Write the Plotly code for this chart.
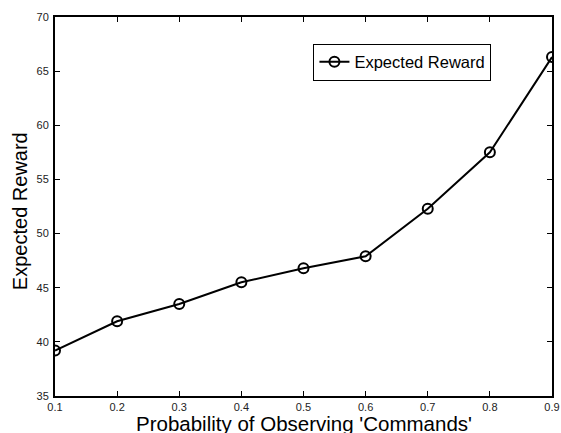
import plotly.graph_objects as go

prob = [0.1, 0.2, 0.3, 0.4, 0.5, 0.6, 0.7, 0.8, 0.9]
reward = [39.2, 41.9, 43.5, 45.5, 46.8, 47.9, 52.3, 57.5, 66.3]
x_ticks = [0.1, 0.2, 0.3, 0.4, 0.5, 0.6, 0.7, 0.8, 0.9]
y_ticks = [35, 40, 45, 50, 55, 60, 65, 70]
x_title = "Probability of Observing 'Commands'"
y_title = "Expected Reward"

fig = go.Figure()
fig.add_trace(go.Scatter(
    x=prob, y=reward, mode="lines+markers", name="Expected Reward",
    line=dict(color="black", width=2),
    marker=dict(symbol="circle-open", size=10, color="black", line=dict(width=2)),
))

font = "Liberation Sans, Arial, Helvetica, sans-serif"
fig.update_layout(
    width=561, height=433,
    margin=dict(l=55, r=9, t=17, b=37),
    paper_bgcolor="white", plot_bgcolor="white",
    font=dict(family=font, color="#222"),
    showlegend=True,
    legend=dict(
        x=0.52, y=0.93, xanchor="left", yanchor="top",
        bordercolor="black", borderwidth=1, bgcolor="white",
        font=dict(size=16.5, family=font, color="black"),
        tracegroupgap=0, itemwidth=30,
    ),
    annotations=[
        dict(text=x_title, xref="paper", yref="paper", x=0.5, y=-0.0735,
             xanchor="center", yanchor="middle", showarrow=False, borderpad=0,
             font=dict(size=20.5, family=font, color="black")),
        dict(text=y_title, xref="paper", yref="paper", x=-0.069, y=0.487,
             xanchor="center", yanchor="middle", showarrow=False, textangle=-90,
             font=dict(size=20, family=font, color="black")),
    ],
)
fig.update_xaxes(
    range=[0.1, 0.9], tickvals=x_ticks, ticktext=[f"{v:g}" for v in x_ticks],
    ticks="inside", ticklen=5, tickcolor="black", tickwidth=1,
    showline=True, linecolor="black", linewidth=2, mirror="ticks",
    showgrid=False, zeroline=False, automargin=False,
    tickfont=dict(size=11, family=font, color="#222"),
)
fig.update_yaxes(
    range=[35, 70], tickvals=y_ticks,
    ticks="inside", ticklen=5, tickcolor="black", tickwidth=1,
    showline=True, linecolor="black", linewidth=2, mirror="ticks",
    showgrid=False, zeroline=False, automargin=False,
    tickfont=dict(size=11, family=font, color="#222"),
    ticklabelstandoff=2,
)
fig.write_html("out.html")
